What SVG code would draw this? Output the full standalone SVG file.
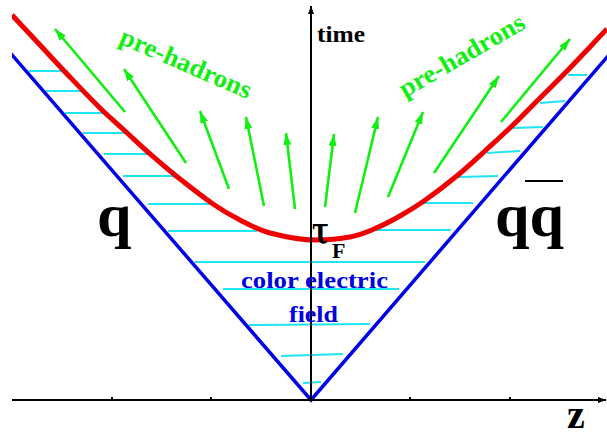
<svg xmlns="http://www.w3.org/2000/svg" width="607" height="434" viewBox="0 0 607 434">
<style>
.cy{stroke:#1ee4f4;stroke-width:2;fill:none}
.bl{stroke:#0000e8;stroke-width:3.5;fill:none}
.rd{stroke:#ee0000;stroke-width:5;fill:none}
.gr{stroke:#11ee11;stroke-width:2.6;fill:none;marker-end:url(#gh)}
.ax{stroke:#000;stroke-width:2;fill:none}
.t{font-family:"Liberation Serif","Times New Roman",serif;font-weight:bold}
</style>
<defs>
<marker id="gh" markerUnits="userSpaceOnUse" markerWidth="14" markerHeight="10" refX="12" refY="4" orient="auto">
<path d="M0,0 L12,4 L0,8 z" fill="#11ee11"/>
</marker>
<marker id="ah" markerUnits="userSpaceOnUse" markerWidth="10" markerHeight="8" refX="8" refY="3" orient="auto">
<path d="M0,0 L8,3 L0,6 z" fill="#000"/>
</marker>
<clipPath id="plot"><rect x="12" y="0" width="595" height="434"/></clipPath>
</defs>
<g id="field" class="cy">
<line x1="29" y1="71" x2="68" y2="71"/>
<line x1="45" y1="91" x2="84" y2="91"/>
<line x1="65" y1="113" x2="105" y2="113"/>
<line x1="83" y1="133" x2="125" y2="133"/>
<line x1="104" y1="154" x2="149" y2="154"/>
<line x1="123" y1="176" x2="175" y2="176"/>
<line x1="148" y1="204" x2="213" y2="204"/>
<line x1="168" y1="231" x2="257" y2="231"/>
<line x1="195" y1="262" x2="425" y2="262"/>
<line x1="223" y1="289" x2="399" y2="289"/>
<line x1="249" y1="325" x2="370" y2="324"/>
<line x1="281" y1="356" x2="343" y2="354"/>
<line x1="303" y1="383" x2="321" y2="382"/>
<line x1="374" y1="230" x2="451" y2="230"/>
<line x1="424" y1="203" x2="473" y2="203"/>
<line x1="458" y1="177" x2="498" y2="176"/>
<line x1="487" y1="153" x2="520" y2="151"/>
<line x1="513" y1="128" x2="543" y2="127"/>
<line x1="540" y1="103" x2="565" y2="101"/>
<line x1="568" y1="75" x2="587" y2="75"/>
</g>
<g id="worldlines" class="bl" clip-path="url(#plot)">
<polyline points="0,41 311,400 620,42"/>
</g>
<g id="hyperbola" class="rd" clip-path="url(#plot)">
<path d="M12,15 C21.3,25 30.7,35 40,45 C49.3,55 58,64.5 68,75 C78,85.5 90.5,98.7 100,108 C109.5,117.3 116.8,123.5 125,131 C133.2,138.5 140.7,145.7 149,153 C157.3,160.3 164.3,166.5 175,175 C185.7,183.5 202.2,196.5 213,204 C223.8,211.5 230.5,215.2 240,220 C249.5,224.8 257.3,229.7 270,233 C282.7,236.3 302.7,240 316,240 C329.3,240 340.3,238.8 350,237 C359.7,235.2 365.7,232.5 374,229 C382.3,225.5 391.7,220.7 400,216 C408.3,211.3 414.3,207.8 424,201 C433.7,194.2 447.7,183.5 458,175 C468.3,166.5 477,158.2 486,150 C495,141.8 503.3,134.3 512,126 C520.7,117.7 529,109 538,100 C547,91 554.5,83.8 566,72 C577.5,60.2 593.3,43.3 607,29"/>
</g>
<g id="axes">
<line class="ax" x1="12" y1="400" x2="606" y2="400" marker-end="url(#ah)"/>
<line class="ax" x1="311" y1="400" x2="311" y2="6" marker-end="url(#ah)"/>
<g stroke="#000" stroke-width="2">
<line x1="112" y1="397" x2="112" y2="400"/>
<line x1="211" y1="397" x2="211" y2="400"/>
<line x1="410" y1="397" x2="410" y2="400"/>
<line x1="510" y1="397" x2="510" y2="400"/>
</g>
</g>
<g id="connectors">
<line class="gr" x1="125" y1="112" x2="55" y2="29"/>
<line class="gr" x1="186" y1="163" x2="124" y2="69"/>
<line class="gr" x1="229" y1="189" x2="200" y2="111"/>
<line class="gr" x1="264" y1="206" x2="246" y2="117"/>
<line class="gr" x1="295" y1="209" x2="286" y2="133"/>
<line class="gr" x1="325" y1="207" x2="334" y2="134"/>
<line class="gr" x1="355" y1="213" x2="378" y2="117"/>
<line class="gr" x1="388" y1="197" x2="423" y2="112"/>
<line class="gr" x1="434" y1="173" x2="499" y2="76"/>
<line class="gr" x1="501" y1="122" x2="570" y2="39"/>
</g>
<g id="labels" class="t">
<text x="317" y="42" font-size="24" textLength="48" lengthAdjust="spacingAndGlyphs" fill="#000">time</text>
<text transform="translate(118,43) rotate(23.5)" font-size="26" textLength="141" lengthAdjust="spacingAndGlyphs" fill="#11ee11">pre-hadrons</text>
<text transform="translate(405,98) rotate(-30)" font-size="26" textLength="141" lengthAdjust="spacingAndGlyphs" fill="#11ee11">pre-hadrons</text>
<text x="97" y="236" font-size="62" fill="#000">q</text>
<text x="495" y="236" font-size="62" fill="#000">qq</text>
<line x1="525" y1="181" x2="563" y2="181" stroke="#000" stroke-width="2"/>
<text x="312" y="243" font-size="38" textLength="17" lengthAdjust="spacingAndGlyphs" fill="#000" style="font-family:'DejaVu Serif',serif">τ</text>
<text x="332" y="258" font-size="22" fill="#000">F</text>
<text x="241" y="288" font-size="24" textLength="147" lengthAdjust="spacingAndGlyphs" fill="#0000e0">color electric</text>
<text x="289" y="322" font-size="24" textLength="49" lengthAdjust="spacingAndGlyphs" fill="#0000e0">field</text>
<text x="567" y="428" font-size="40" fill="#000">z</text>
</g>
</svg>
